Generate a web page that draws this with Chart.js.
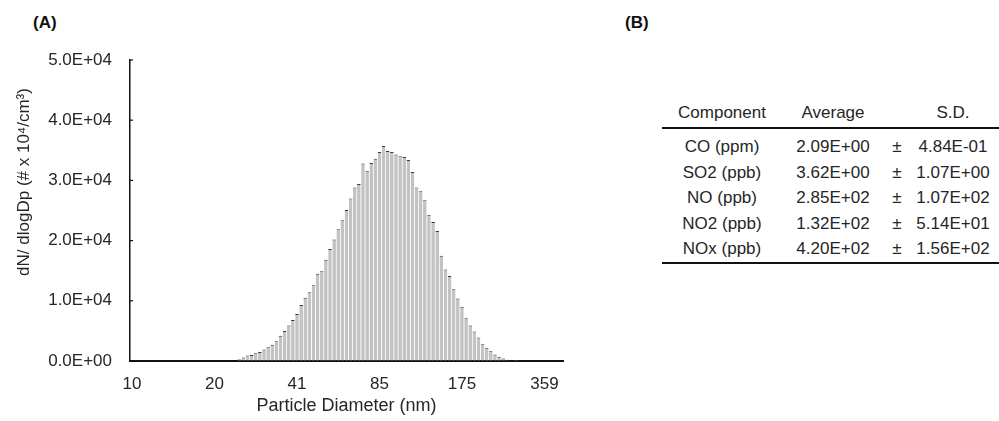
<!DOCTYPE html>
<html>
<head>
<meta charset="utf-8">
<script src="https://cdn.jsdelivr.net/npm/chart.js@4.4.1/dist/chart.umd.min.js"></script>
<style>
body{margin:0;background:#fff;width:999px;height:421px;overflow:hidden;position:relative;font-family:"Liberation Sans",Arial,sans-serif;color:#262626}
#wrap{position:absolute;left:0;top:0;width:600px;height:421px}
.lbl{position:absolute;font-weight:bold;font-size:17px;color:#111}
.t{position:absolute;font-size:17px;white-space:nowrap;transform:translate(-50%,-50%)}
.rule{position:absolute;left:662px;width:337px;height:2px;background:#111}
</style>
</head>
<body>
<div class="lbl" style="left:33px;top:13px">(A)</div>
<div class="lbl" style="left:625px;top:13px">(B)</div>
<div id="wrap"><canvas id="grafico" width="600" height="421"></canvas></div>
<div id="tabla"></div>
<script>
// diametros de cada canal (nm)
const diametros = [
  10.0,10.4,10.7,11.1,11.5,12.0,12.4,12.9,13.3,13.8,
  14.3,14.8,15.4,15.9,16.5,17.1,17.7,18.4,19.0,19.7,
  20.5,21.2,22.0,22.8,23.6,24.5,25.4,26.3,27.3,28.2,
  29.3,30.3,31.4,32.6,33.8,35.0,36.3,37.6,39.0,40.4,
  41.9,43.4,45.0,46.6,48.3,50.1,51.9,53.8,55.8,57.8,
  59.9,62.1,64.4,66.7,69.1,71.7,74.3,77.0,79.8,82.7,
  85.7,88.8,92.1,95.4,98.9,102.5,106.2,110.1,114.1,118.3,
  122.6,127.1,131.7,136.5,141.5,146.7,152.0,157.5,163.3,169.2,
  175.4,181.8,188.4,195.3,202.4,209.8,217.5,225.4,233.6,242.1,
  251.0,260.1,269.6,279.4,289.6,300.2,311.1,322.5,334.2,346.4,
  359.0,372.1,385.7,399.7,414.3
];
const dNdlogDp = [
  0,0,0,0,0,0,0,0,0,0,
  0,0,0,0,0,0,0,0,0,0,
  0,0,0,0,0,100,300,600,900,1000,
  1300,1500,1900,2300,2700,3300,4200,5000,5900,6800,
  7800,9300,10500,11400,12600,14500,14900,16800,18600,20200,
  21900,23400,25100,27000,28800,29400,32800,31600,32900,33600,
  34700,35700,34900,34700,34300,34000,33900,33400,31400,28800,
  28200,26700,24300,23100,21600,17500,15200,14100,11900,10400,
  9000,7100,5900,4900,3900,2800,2200,1600,1100,700,
  400,200,100,50,0,0,0,0,0,0,
  0,0,0,0,0
];
const xIndices = [0, 20, 40, 60, 80, 100];
const xEtiquetas = ['10', '20', '41', '85', '175', '359'];
const yEtiquetas = ['0.0E+00', '1.0E+04', '2.0E+04', '3.0E+04', '4.0E+04', '5.0E+04'];

const componentes = ['CO (ppm)', 'SO2 (ppb)', 'NO (ppb)', 'NO2 (ppb)', 'NOx (ppb)'];
const promedios = ['2.09E+00', '3.62E+00', '2.85E+02', '1.32E+02', '4.20E+02'];
const desviaciones = ['4.84E-01', '1.07E+00', '1.07E+02', '5.14E+01', '1.56E+02'];

const fuente = '"Liberation Sans", Arial, sans-serif';
const colorTexto = '#262626';

/* marcas del eje y y titulo vertical */
const extras = {
    id: 'extras',
    afterDraw(chart){
        const ctx = chart.ctx;
        const y = chart.scales.y;
        ctx.save();
        ctx.strokeStyle = '#111';
        ctx.lineWidth = 1.2;
        y.ticks.forEach(t => {
            const py = y.getPixelForValue(t.value);
            ctx.beginPath();
            ctx.moveTo(y.right, py);
            ctx.lineTo(y.right + 3, py);
            ctx.stroke();
        });
        ctx.translate(24, 182);
        ctx.rotate(-Math.PI / 2);
        ctx.fillStyle = colorTexto;
        ctx.font = '17px ' + fuente;
        ctx.textAlign = 'center';
        ctx.textBaseline = 'middle';
        ctx.fillText('dN/ dlogDp (# x 10\u2074/cm\u00b3)', 0, 0);
        ctx.restore();
    }
};

new Chart(document.getElementById('grafico'), {
    type: 'bar',
    data: {
        labels: diametros,
        datasets: [{
            data: dNdlogDp,
            backgroundColor: '#c3c3c3',
            borderColor: '#3a3a3a',
            borderWidth: {top: 1, left: 0, right: 0, bottom: 0},
            barPercentage: 0.88,
            categoryPercentage: 1.0
        }]
    },
    options: {
        responsive: false,
        animation: false,
        layout: {padding: {top: 60, right: 37, left: 0, bottom: 0}},
        plugins: {legend: {display: false}, tooltip: {enabled: false}},
        scales: {
            x: {
                afterFit: s => { s.height = 60; },
                grid: {color: 'transparent', tickLength: 0, drawOnChartArea: false},
                border: {color: '#111', width: 2},
                ticks: {
                    autoSkip: false,
                    maxRotation: 0,
                    padding: 13,
                    color: colorTexto,
                    font: {family: fuente, size: 17},
                    callback: (v, i) => {
                        const k = xIndices.indexOf(i);
                        return k >= 0 ? xEtiquetas[k] : null;
                    }
                },
                title: {
                    display: true,
                    text: 'Particle Diameter (nm)',
                    color: colorTexto,
                    font: {family: fuente, size: 18},
                    padding: {top: 0, bottom: 4}
                }
            },
            y: {
                min: 0,
                max: 50000,
                afterFit: s => { s.width = 130; },
                grid: {color: 'transparent', tickLength: 0, drawOnChartArea: false},
                border: {color: '#111', width: 1.5},
                ticks: {
                    stepSize: 10000,
                    padding: 18,
                    color: colorTexto,
                    font: {family: fuente, size: 17},
                    callback: (v, i) => yEtiquetas[i]
                }
            }
        }
    },
    plugins: [extras]
});

/* tabla (B) */
const tabla = document.getElementById('tabla');
function texto(s, x, y){
    const d = document.createElement('div');
    d.className = 't';
    d.textContent = s;
    d.style.left = x + 'px';
    d.style.top = y + 'px';
    tabla.appendChild(d);
}
texto('Component', 722, 113);
texto('Average', 833, 113);
texto('S.D.', 953, 113);
componentes.forEach((c, i) => {
    const y = 147 + i * 25.5;
    texto(c, 722, y);
    texto(promedios[i], 833, y);
    texto('\u00b1', 897, y);
    texto(desviaciones[i], 953, y);
});
const r1 = document.createElement('div');
r1.className = 'rule'; r1.style.top = '127px';
tabla.appendChild(r1);
const r2 = document.createElement('div');
r2.className = 'rule'; r2.style.top = '262px';
tabla.appendChild(r2);
</script>
</body>
</html>
